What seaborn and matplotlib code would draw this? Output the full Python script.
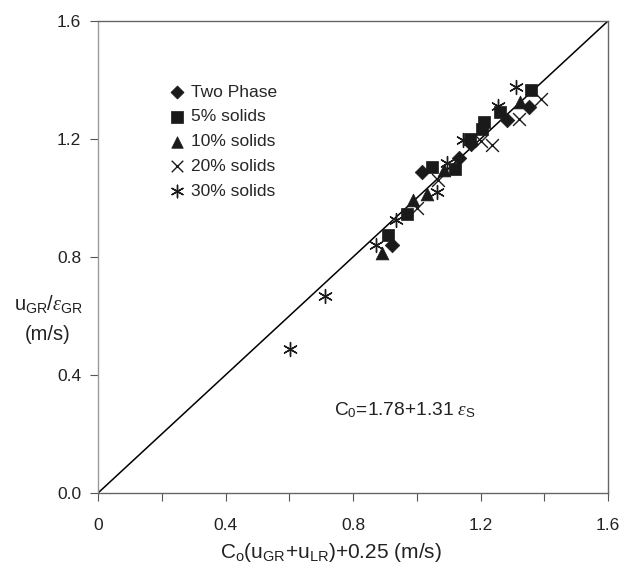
import matplotlib
matplotlib.use("Agg")
import matplotlib.pyplot as plt
import seaborn as sns
import numpy as np

two_phase_x = [0.922, 1.016, 1.132, 1.170, 1.282, 1.352]
two_phase_y = [0.840, 1.087, 1.135, 1.183, 1.264, 1.310]
s5_x = [0.910, 0.968, 1.047, 1.120, 1.167, 1.210, 1.206, 1.261, 1.359]
s5_y = [0.875, 0.946, 1.106, 1.100, 1.200, 1.257, 1.235, 1.292, 1.366]
s10_x = [0.890, 0.989, 1.033, 1.085, 1.325]
s10_y = [0.812, 0.993, 1.013, 1.096, 1.327]
s20_x = [1.001, 1.068, 1.201, 1.236, 1.322, 1.390]
s20_y = [0.967, 1.061, 1.193, 1.181, 1.267, 1.335]
s30_x = [0.602, 0.712, 0.872, 0.935, 1.064, 1.094, 1.146, 1.256, 1.310]
s30_y = [0.488, 0.668, 0.840, 0.927, 1.020, 1.118, 1.197, 1.313, 1.375]

labels = ["Two Phase", "5% solids", "10% solids", "20% solids", "30% solids"]
xticks = [0, 0.4, 0.8, 1.2, 1.6]
xticklabels = ["0", "0.4", "0.8", "1.2", "1.6"]
yticks = [0.0, 0.4, 0.8, 1.2, 1.6]
yticklabels = ["0.0", "0.4", "0.8", "1.2", "1.6"]

sns.set_theme(style="white")
plt.rcParams["font.family"] = ["Liberation Sans", "DejaVu Sans"]
plt.rcParams["mathtext.fontset"] = "custom"
plt.rcParams["mathtext.rm"] = "Liberation Sans"
plt.rcParams["mathtext.it"] = "Liberation Serif:italic"

fig = plt.figure(figsize=(6.22, 5.70), dpi=100)
ax = fig.add_axes([98/622, 1-493/570, 510/622, 472/570])

ax.plot([0, 1.6], [0, 1.6], color="black", lw=1.1, zorder=1)

groups = [
    (two_phase_x, two_phase_y, "D", 55),
    (s5_x, s5_y, "s", 80),
    (s10_x, s10_y, "^", 85),
    (s20_x, s20_y, "x", 85),
    (s30_x, s30_y, (6, 2, 0), 100),
]
for (gx, gy, m, s), lab in zip(groups, labels):
    if m in ("x",) or isinstance(m, tuple):
        sns.scatterplot(x=gx, y=gy, marker=m, s=s, color="#1a1a1a", linewidth=1.0,
                        ax=ax, label=lab, zorder=3)
    else:
        sns.scatterplot(x=gx, y=gy, marker=m, s=s, color="#1a1a1a", edgecolor="#1a1a1a",
                        linewidth=0.5, ax=ax, label=lab, zorder=3)

ax.set_xlim(0, 1.6)
ax.set_ylim(0, 1.6)
ax.set_xticks(np.arange(0, 1.61, 0.2), minor=True)
ax.set_xticks(xticks)
ax.set_xticklabels(xticklabels)
ax.set_yticks(yticks)
ax.set_yticklabels(yticklabels)
ax.tick_params(axis="both", which="both", direction="out", length=6, width=0.8,
               color="#555555", labelsize=12.5, labelcolor="#222222")
ax.tick_params(axis="x", which="both", bottom=True, top=False, pad=12)
ax.tick_params(axis="y", which="both", left=True, right=False, pad=6)
for sp in ax.spines.values():
    sp.set_color("#666666")
    sp.set_linewidth(1.0)
ax.spines["left"].set_color("#999999")

ax.set_xlabel(r"C$_{\mathrm{o}}$(u$_{\mathrm{GR}}$+u$_{\mathrm{LR}}$)+0.25 (m/s)",
              fontsize=15, color="#222222", va="center")
ax.xaxis.set_label_coords(0.457, -0.127)
ax.set_ylabel("u$_{\\mathrm{GR}}$/$\\varepsilon_{\\mathrm{GR}}$\n(m/s)", fontsize=14.5,
              color="#222222", rotation=0, ha="center", va="center", linespacing=1.7)
ax.yaxis.set_label_coords(-0.098, 0.37)

ax.text(0.963, 0.281, r"C$_{0}$=1.78+1.31 $\varepsilon_{\mathrm{S}}$", fontsize=13.8,
        color="#222222", ha="center", va="center")

leg = ax.legend(loc="upper left", bbox_to_anchor=(0.125, 0.88), frameon=False,
                fontsize=12.5, handletextpad=0.3, labelspacing=0.55, borderaxespad=0,
                handlelength=1.0, markerscale=0.9)

fig.savefig("out.png", dpi=100)
